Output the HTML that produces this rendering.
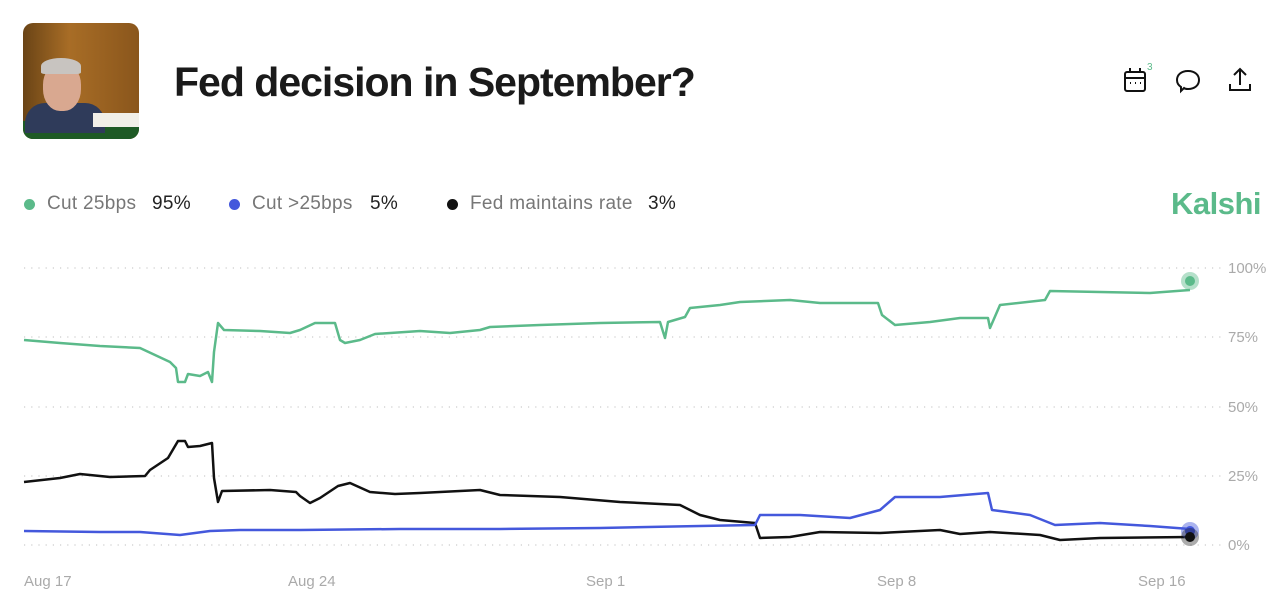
<!DOCTYPE html>
<html><head><meta charset="utf-8"><style>
body{margin:0;width:1280px;height:606px;background:#fff;overflow:hidden;font-family:"Liberation Sans",sans-serif;position:relative}
.abs{position:absolute}
.lg{position:absolute;top:193px;font-size:19px;color:#777;white-space:nowrap;letter-spacing:0.3px}
.lv{color:#222}
.dot{position:absolute;top:199px;width:11px;height:11px;border-radius:50%}
</style></head><body>
<div class="abs" style="left:23px;top:23px;width:116px;height:116px;border-radius:10px;overflow:hidden;background:linear-gradient(90deg,#6a4416,#a86d26 40%,#8a561c);">
<div class="abs" style="left:0;top:98px;width:116px;height:18px;background:#1e5a25"></div>
<div class="abs" style="left:2px;top:80px;width:80px;height:30px;background:#2f3b5a;border-radius:20px 20px 0 0"></div>
<div class="abs" style="left:20px;top:40px;width:38px;height:48px;background:#d9a890;border-radius:45%"></div>
<div class="abs" style="left:18px;top:35px;width:40px;height:16px;background:#c8c4c0;border-radius:50% 50% 10% 10%"></div>
<div class="abs" style="left:70px;top:90px;width:46px;height:14px;background:#f1efe8"></div>
</div>
<div class="abs" style="left:174px;top:59px;font-size:41px;font-weight:bold;color:#1a1a1a;letter-spacing:-1px">Fed decision in September?</div>
<svg class="abs" style="left:1120px;top:62px" width="140" height="40" viewBox="0 0 140 40" fill="none" stroke="#111" stroke-width="2">
<rect x="5" y="10" width="20" height="19" rx="2"/><line x1="5" y1="16" x2="25" y2="16"/><line x1="10" y1="6" x2="10" y2="11"/><line x1="20" y1="6" x2="20" y2="11"/>
<path d="M10 21h1M15 21h1M20 21h1"/>
<text x="27" y="8" font-size="10" fill="#5bba8a" stroke="none" font-family="Liberation Sans">3</text>
<path d="M68 9c7 0 11 4 11 9s-4 9-11 9c-2 0-3 0-4-1l-3 3 0-4c-3-2-4-4-4-7 0-5 4-9 11-9z"/>
<path d="M110 22v6h20v-6M120 8v15M114 13l6-6 6 6"/>
</svg>
<div class="dot" style="left:24px;background:#5bba8a"></div>
<div class="lg" style="left:47px">Cut 25bps</div><div class="lg lv" style="left:152px">95%</div>
<div class="dot" style="left:229px;background:#4458dc"></div>
<div class="lg" style="left:252px">Cut &gt;25bps</div><div class="lg lv" style="left:370px">5%</div>
<div class="dot" style="left:447px;background:#111"></div>
<div class="lg" style="left:470px">Fed maintains rate</div><div class="lg lv" style="left:648px">3%</div>
<div class="abs" style="left:1171px;top:186px;font-size:31px;font-weight:bold;color:#5bba8a;letter-spacing:-0.5px">Kalshi</div>
<svg class="abs" style="left:0;top:0" width="1280" height="606">
<g stroke="#ccc" stroke-width="1.2" stroke-dasharray="1.2 6">
<line x1="24" y1="268" x2="1222" y2="268"/><line x1="24" y1="337" x2="1222" y2="337"/><line x1="24" y1="407" x2="1222" y2="407"/><line x1="24" y1="476" x2="1222" y2="476"/><line x1="24" y1="545" x2="1222" y2="545"/>
</g>
<g font-size="15" fill="#aaa" font-family="Liberation Sans">
<text x="1228" y="273">100%</text><text x="1228" y="342">75%</text><text x="1228" y="412">50%</text><text x="1228" y="481">25%</text><text x="1228" y="550">0%</text>
<text x="24" y="586">Aug 17</text><text x="288" y="586">Aug 24</text><text x="586" y="586">Sep 1</text><text x="877" y="586">Sep 8</text><text x="1138" y="586">Sep 16</text>
</g>
<g fill="none" stroke-width="2.5" stroke-linejoin="round">
<polyline stroke="#5bba8a" points="24,340 60,343 100,346 140,348 155,355 170,362 176,368 178,382 185,382 188,374 200,376 208,372 212,382 214,352 218,323 224,330 260,331 290,333 300,330 315,323 335,323 340,340 345,343 360,340 375,334 420,331 450,333 480,330 490,327 540,325 600,323 660,322 665,338 668,322 685,317 690,308 720,305 740,302 790,300 820,303 878,303 882,315 895,325 930,322 960,318 988,318 990,328 1000,305 1045,300 1050,291 1100,292 1150,293 1190,290"/>
<polyline stroke="#111" points="24,482 60,478 80,474 110,477 145,476 150,470 168,458 178,441 185,441 188,447 200,446 212,443 214,478 218,502 222,491 270,490 296,492 300,496 310,503 320,498 338,486 350,483 370,492 395,494 420,493 480,490 500,495 560,497 620,502 680,505 700,515 720,520 755,523 760,538 790,537 820,532 880,533 940,530 960,534 990,532 1040,535 1060,540 1100,538 1190,537"/>
<polyline stroke="#4458dc" points="24,531 100,532 140,532 180,535 210,531 240,530 300,530 400,529 500,529 600,528 700,526 755,525 760,515 800,515 850,518 880,510 895,497 940,497 988,493 992,510 1030,515 1055,525 1100,523 1150,526 1190,529"/>
</g>
<circle cx="1190" cy="281" r="9" fill="#5bba8a" opacity="0.45"/><circle cx="1190" cy="281" r="5" fill="#5bba8a"/>
<circle cx="1190" cy="531" r="9" fill="#4458dc" opacity="0.45"/><circle cx="1190" cy="531" r="5" fill="#4458dc"/>
<circle cx="1190" cy="537" r="9" fill="#111" opacity="0.35"/><circle cx="1190" cy="537" r="5" fill="#111"/>
</svg>
</body></html>
